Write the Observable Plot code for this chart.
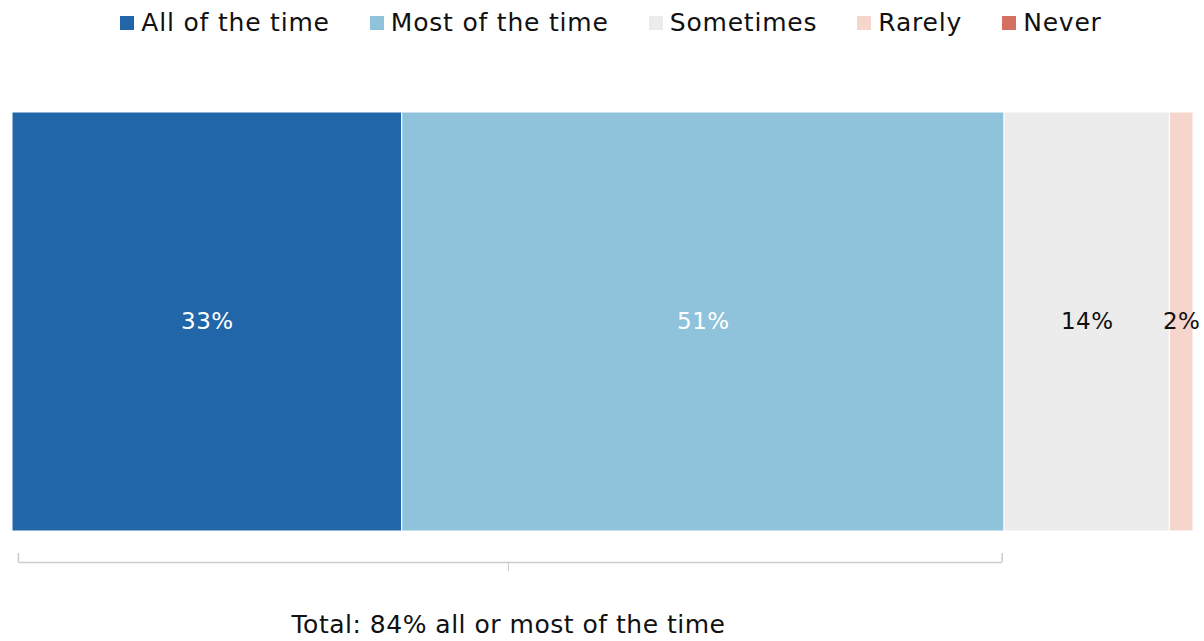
<!DOCTYPE html>
<html>
<head>
<meta charset="utf-8">
<script src="https://cdn.jsdelivr.net/npm/d3@7"></script>
<script src="https://cdn.jsdelivr.net/npm/@observablehq/plot@0.6"></script>
<style>
  html, body { margin: 0; padding: 0; background: #fff; }
  body { width: 1204px; height: 641px; overflow: hidden; font-family: "DejaVu Sans", sans-serif; }
  #legend { height: 45px; display: flex; justify-content: center; align-items: center; font-size: 25px; letter-spacing: 0.8px; color: #111; padding-left: 18px; box-sizing: border-box; }
  .item { display: flex; align-items: center; margin-right: 40px; }
  .item:last-child { margin-right: 0; }
  .sw { width: 14px; height: 14px; margin-right: 7px; display: inline-block; }
</style>
</head>
<body>
<div id="legend"></div>
<div id="chart"></div>
<script>
const categories = ["All of the time", "Most of the time", "Sometimes", "Rarely", "Never"];
const values = [33, 51, 14, 2, 0];
const colors = ["#2166a8", "#8fc2db", "#ececec", "#f6d5cc", "#d47062"];
const labelColors = ["#ffffff", "#ffffff", "#111111", "#111111", "#111111"];
const bracketCategories = ["All of the time", "Most of the time"];
const captionText = "Total: 84% all or most of the time";

const data = categories.map((c, i) => ({ category: c, value: values[i], bar: "bar", labelColor: labelColors[i] }));
const bracketTotal = d3.sum(data.filter(d => bracketCategories.includes(d.category)), d => d.value);

// legend
const leg = document.getElementById("legend");
categories.forEach((c, i) => {
  const it = document.createElement("div");
  it.className = "item";
  it.innerHTML = `<span class="sw" style="background:${colors[i]}"></span><span>${c}</span>`;
  leg.appendChild(it);
});

const W = 1204, H = 596;
const bracketEnds = [{ x: 0.5, bar: "bar" }, { x: bracketTotal - 0.2, bar: "bar" }];
const bracketLine = [{ x1: 0.5, x2: bracketTotal - 0.2, bar: "bar" }];
const mid = [{ x: bracketTotal / 2, bar: "bar", text: captionText }];

const font = "'DejaVu Sans', sans-serif";
const chart = Plot.plot({
  width: W,
  height: H,
  marginLeft: 12,
  marginRight: 11,
  marginTop: 67,
  marginBottom: 110,
  style: { fontFamily: font, background: "white", letterSpacing: "0.5px" },
  x: { domain: [0, 100], axis: null },
  y: { domain: ["bar"], axis: null, padding: 0 },
  color: { domain: categories, range: colors },
  marks: [
    Plot.barX(data, Plot.stackX({ x: "value", y: "bar", fill: "category", stroke: "white", strokeWidth: 1, order: null })),
    Plot.textX(data, Plot.stackX({
      x: "value", y: "bar", order: null,
      text: d => d.value > 0 ? d.value + "%" : null,
      fill: "labelColor", fontSize: 23
    })),
    // bracket horizontal line (band center 276.5 → 517)
    Plot.link(bracketLine, { x1: "x1", x2: "x2", y1: "bar", y2: "bar", dy: 240.5, stroke: "#cccccc", strokeWidth: 1.5 }),
    // bracket end ticks: band 67..486, want 508..517
    Plot.tickX(bracketEnds, { x: "x", y: "bar", dy: 441, insetBottom: 410, stroke: "#cccccc", strokeWidth: 1.5 }),
    // centre tick 518..526
    Plot.tickX(mid, { x: "x", y: "bar", dy: 451, insetBottom: 411, stroke: "#cccccc", strokeWidth: 1 }),
    Plot.text(mid, { x: "x", y: "bar", text: "text", dy: 303, fontSize: 25, fill: "#111" })
  ]
});
document.getElementById("chart").appendChild(chart);
</script>
</body>
</html>
